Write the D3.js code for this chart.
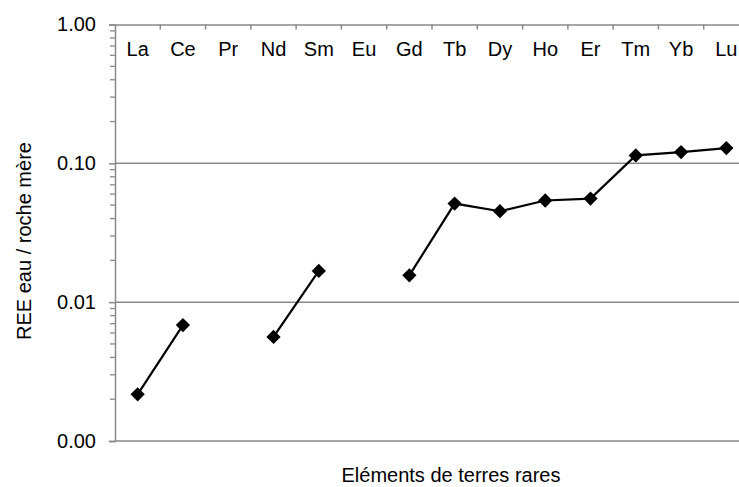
<!DOCTYPE html>
<html><head><meta charset="utf-8">
<script src="https://cdn.jsdelivr.net/npm/d3@7"></script>
<style>body{margin:0;background:#fff}svg{display:block}text{font-family:Arial,"Liberation Sans",sans-serif;fill:#000}</style>
</head><body>
<svg id="c" width="739" height="487"></svg>
<script>
const categories = ["La","Ce","Pr","Nd","Sm","Eu","Gd","Tb","Dy","Ho","Er","Tm","Yb","Lu"];
const values = [0.00217,0.00684,null,0.00562,0.0168,null,0.0156,0.0513,0.0452,0.0540,0.0557,0.114,0.1206,0.1288];
const yTicks = [0.001,0.01,0.1,1];
const yTickLabels = ["0.00","0.01","0.10","1.00"];
const xTitle = "Eléments de terres rares";
const yTitle = "REE eau / roche mère";

const svg = d3.select("#c");
const L = 115, R = 749, T = 24.5, B = 441;
const gray = "#898989";
const x = d3.scaleBand().domain(categories).range([L, R]);
const y = d3.scaleLog().domain([0.001, 1]).range([B, T]);

// gridlines
svg.append("g").selectAll("line").data(yTicks.filter(d => d > 0.001 && d < 1)).join("line")
  .attr("x1", L).attr("x2", R).attr("y1", d => y(d)).attr("y2", d => y(d))
  .attr("stroke", gray).attr("stroke-width", 1.5);

// minor ticks
const minor = [];
for (let e = -3; e < 0; e++) for (let k = 2; k <= 9; k++) minor.push(k * Math.pow(10, e));
svg.append("g").selectAll("line").data(minor).join("line")
  .attr("x1", L - 5).attr("x2", L).attr("y1", d => y(d)).attr("y2", d => y(d))
  .attr("stroke", gray).attr("stroke-width", 1.3);

// y axis
const yAxis = d3.axisLeft(y).tickValues(yTicks).tickFormat((d, i) => yTickLabels[i]).tickSize(6).tickPadding(13);
const gy = svg.append("g").attr("transform", `translate(${L},0)`).call(yAxis);
gy.select(".domain").attr("stroke", gray).attr("stroke-width", 1.5);
gy.selectAll(".tick line").attr("stroke", gray).attr("stroke-width", 1.5);
gy.selectAll(".tick text").attr("font-size", 20).attr("font-family", "Arial, 'Liberation Sans', sans-serif").attr("fill", "#000");

// bottom axis line
svg.append("line").attr("x1", L).attr("x2", R).attr("y1", B).attr("y2", B).attr("stroke", gray).attr("stroke-width", 1.5);

// top axis (categories)
const xAxis = d3.axisTop(x).tickSize(0).tickPadding(0);
const gx = svg.append("g").attr("transform", `translate(0,${T})`).call(xAxis);
gx.select(".domain").attr("stroke", gray).attr("stroke-width", 1.5);
gx.selectAll(".tick text").attr("font-size", 20).attr("font-family", "Arial, 'Liberation Sans', sans-serif")
  .attr("fill", "#000").attr("y", 31).attr("dy", 0);
// boundary ticks
svg.append("g").selectAll("line").data(categories.slice(1)).join("line")
  .attr("x1", d => x(d)).attr("x2", d => x(d)).attr("y1", T).attr("y2", T + 5)
  .attr("stroke", gray).attr("stroke-width", 1.5);

// line
const cx = d => x(d) + x.bandwidth() / 2;
const pts = categories.map((c, i) => ({c, v: values[i]}));
svg.append("path").datum(pts)
  .attr("d", d3.line().defined(d => d.v != null).x(d => cx(d.c)).y(d => y(d.v)))
  .attr("fill", "none").attr("stroke", "#000").attr("stroke-width", 2.2);
svg.append("g").selectAll("path").data(pts.filter(d => d.v != null)).join("path")
  .attr("transform", d => `translate(${cx(d.c)},${y(d.v)})`)
  .attr("d", d3.symbol(d3.symbolDiamond2, 130))
  .attr("fill", "#000");

// titles
svg.append("text").attr("x", 451).attr("y", 482).attr("text-anchor", "middle").attr("font-size", 20).text(xTitle);
svg.append("text").attr("transform", "translate(31,241) rotate(-90)").attr("text-anchor", "middle").attr("font-size", 20).text(yTitle);
</script>
</body></html>
